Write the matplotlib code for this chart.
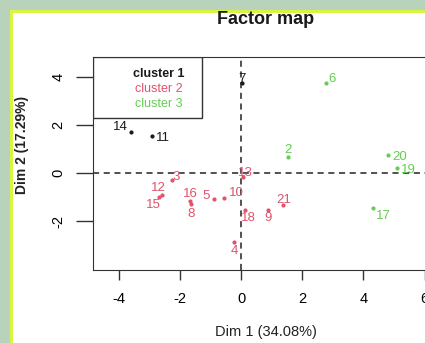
import matplotlib
matplotlib.use("Agg")
import matplotlib.pyplot as plt
from matplotlib.patches import Rectangle

plt.rcParams['font.family'] = ['Liberation Sans', 'DejaVu Sans']
plt.rcParams['axes.unicode_minus'] = False

# individuals on the first factorial plane
ind_names = ['2', '3', '4', '5', '6', '7', '8', '9', '10', '11', '12',
             '13', '14', '15', '16', '17', '18', '19', '20', '21']
dim1 = [1.54, -2.25, -0.23, -0.88, 2.78, 0.03, -1.63, 0.88, -0.56, -2.91, -2.58,
        0.07, -3.59, -2.68, -1.67, 4.31, 0.13, 5.10, 4.80, 1.37]
dim2 = [0.67, -0.29, -2.88, -1.08, 3.75, 3.75, -1.29, -1.54, -1.04, 1.54, -0.92,
        -0.17, 1.71, -1.00, -1.17, -1.46, -1.54, 0.21, 0.75, -1.33]
cluster = [3, 2, 2, 2, 3, 1, 2, 2, 2, 1, 2,
           2, 1, 2, 2, 3, 2, 3, 3, 2]

cluster_names = ['cluster 1', 'cluster 2', 'cluster 3']
cluster_colors = ['#1a1a1a', '#DF536B', '#61D04F']

# where each label sits relative to its point (pixels)
label_offsets = [(0, 7), (4, 3), (0, -9), (-8, 3), (6, 4), (0, 4), (0, -10), (0, -8),
                 (12, 5), (11, -2), (-4, 7), (2, 4), (-11, 5), (-6, -8), (0, 7),
                 (10, -8), (3, -8), (11, -2), (12, -2), (1, 5)]

fig = plt.figure(figsize=(4.25, 3.43), dpi=100)
fig.patch.set_facecolor('white')

# screenshot frame
fig.add_artist(Rectangle((0, 0), 1, 1, transform=fig.transFigure,
                         facecolor='#b8d2bb', edgecolor='none', zorder=-3))
fig.add_artist(Rectangle((10 / 425, 0), 1, 1 - 10 / 343, transform=fig.transFigure,
                         facecolor='#d8f542', edgecolor='none', zorder=-2))
fig.add_artist(Rectangle((13 / 425, 0), 1, 1 - 13 / 343, transform=fig.transFigure,
                         facecolor='white', edgecolor='none', zorder=-1))

ax = fig.add_axes([93 / 425, 73 / 343, 350 / 425, 213 / 343])
ax.set_xlim(-4.84, 6.6)
ax.set_ylim(-4.04, 4.83)

ax.axhline(0, color='#222222', ls=(0, (4, 3)), lw=1.1)
ax.axvline(0, color='#222222', ls=(0, (4, 3)), lw=1.1)

for i, name in enumerate(ind_names):
    col = cluster_colors[cluster[i] - 1]
    ax.plot(dim1[i], dim2[i], 'o', ms=2, color=col, zorder=3)
    ax.annotate(name, (dim1[i], dim2[i]), xytext=label_offsets[i],
                textcoords='offset pixels', ha='center', va='center',
                fontsize=9.5, color=col)

# legend box in the top-left corner
ax.add_patch(Rectangle((0, 1 - 61 / 213), 109 / 350, 61 / 213, transform=ax.transAxes,
                       facecolor='white', edgecolor='#333333', lw=1, zorder=4))
for k, name in enumerate(cluster_names):
    ax.text(66 / 350, 1 - (17 + 15 * k) / 213, name, transform=ax.transAxes,
            ha='center', va='center', fontsize=9, color=cluster_colors[k],
            fontweight='bold' if k == 0 else 'normal', zorder=5)

ax.set_xticks([-4, -2, 0, 2, 4, 6])
ax.set_yticks([-2, 0, 2, 4])
ax.set_yticklabels(['-2', '0', '2', '4'], rotation=90, va='center')
ax.tick_params(axis='x', length=7, width=1, pad=9, labelsize=10.5, color='#333333')
ax.tick_params(axis='y', length=12, width=1, pad=8, labelsize=10.5, color='#333333')
for s in ax.spines.values():
    s.set_color('#333333')

fig.text(266 / 425, 1 - 20 / 343, 'Factor map', ha='center', va='center',
         fontsize=13, fontweight='bold', color='#1a1a1a')
fig.text(266 / 425, 1 - 332 / 343, 'Dim 1 (34.08%)', ha='center', va='center',
         fontsize=10.5, color='#222222')
fig.text(22 / 425, 1 - 145 / 343, 'Dim 2 (17.29%)', ha='center', va='center',
         rotation=90, fontsize=10, color='#222222', fontweight='bold')

fig.savefig('out.png', dpi=100)
